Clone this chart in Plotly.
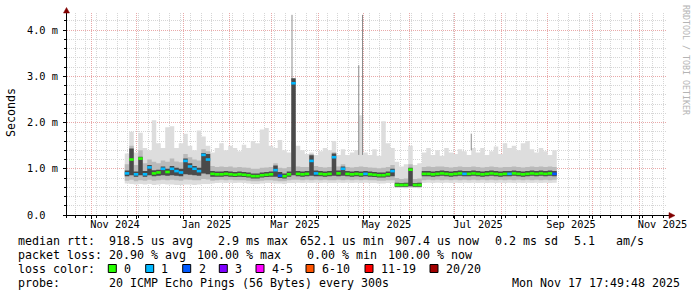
import pandas as pd
import plotly.graph_objects as go

# ---------------- data ----------------
series_start = "2024-11-23"
series_step = "3D"

# median rtt in ms per step
med = [
    0.90, 1.20, 0.88, 1.22, 0.88, 1.03, 0.90, 0.92, 1.00, 0.93,
    1.00, 0.95, 0.92, 1.17, 1.05, 1.00, 0.95, 1.30, 1.20, 0.89,
    0.88, 0.88, 0.89, 0.88, 0.87, 0.88, 0.87, 0.86, 0.84, 0.84,
    0.86, 0.87, 0.88, 0.97, 0.85, 0.84, 0.88, 2.85, 0.89, 0.88,
    0.89, 1.17, 0.90, 0.89, 0.88, 0.89, 1.25, 0.90, 1.00, 0.89,
    0.88, 0.89, 0.88, 0.89, 0.88, 0.87, 0.86, 0.86, 0.88, 0.95,
    0.65, 0.65, 0.65, 0.98, 0.65, 0.65, 0.89, 0.89, 0.88, 0.89,
    0.90, 0.89, 0.88, 0.89, 0.90, 0.89, 0.89, 0.90, 0.89, 0.88,
    0.89, 0.90, 0.89, 0.88, 0.89, 0.89, 0.90, 0.89, 0.88, 0.89,
    0.90, 0.89, 0.90, 0.89, 0.90, 0.89, 0.89,
]
# lost pings per step (0, 1, 2 of 20)
loss = [
    1, 0, 1, 0, 1, 1, 0, 0, 1, 0,
    1, 1, 1, 1, 1, 1, 1, 1, 1, 0,
    0, 0, 0, 0, 0, 0, 0, 0, 0, 0,
    0, 0, 0, 1, 2, 0, 0, 1, 0, 0,
    0, 1, 1, 0, 0, 0, 1, 0, 1, 0,
    0, 0, 0, 1, 0, 0, 0, 0, 0, 1,
    0, 0, 0, 0, 0, 0, 0, 0, 0, 0,
    0, 0, 0, 0, 0, 1, 0, 0, 0, 0,
    0, 0, 0, 0, 0, 1, 0, 0, 0, 0,
    0, 0, 0, 0, 0, 2, 0,
]
# outer smoke (min / max ping)
hi = [
    1.33, 1.80, 1.35, 1.78, 1.45, 1.40, 2.05, 1.55, 1.45, 1.90,
    1.92, 1.45, 1.55, 1.76, 1.50, 1.40, 1.83, 1.70, 1.50, 1.35,
    1.45, 1.55, 1.40, 1.50, 1.45, 1.38, 1.52, 1.45, 1.60, 1.55,
    1.85, 1.88, 1.50, 1.45, 1.62, 1.40, 1.35, 1.90, 1.50, 1.40,
    1.32, 1.35, 1.30, 1.38, 1.45, 1.40, 1.60, 1.30, 1.42, 1.30,
    1.35, 1.40, 2.16, 1.35, 1.30, 1.42, 1.28, 2.03, 1.55, 1.45,
    1.15, 1.05, 1.10, 1.50, 1.08, 1.12, 1.35, 1.45, 1.30, 1.40,
    1.28, 1.45, 1.35, 1.32, 1.42, 1.38, 1.30, 1.45, 1.35, 1.45,
    1.30, 1.38, 1.48, 1.32, 1.55, 1.45, 1.50, 1.40, 1.55, 1.60,
    1.42, 1.35, 1.45, 1.38, 1.30, 1.40, 1.40,
]
lo = [
    0.68, 0.67, 0.66, 0.67, 0.66, 0.67, 0.65, 0.66, 0.67, 0.66,
    0.66, 0.65, 0.65, 0.66, 0.66, 0.65, 0.66, 0.67, 0.67, 0.68,
    0.69, 0.70, 0.69, 0.70, 0.69, 0.70, 0.69, 0.68, 0.67, 0.67,
    0.68, 0.69, 0.69, 0.68, 0.68, 0.67, 0.69, 0.69, 0.70, 0.69,
    0.70, 0.69, 0.70, 0.69, 0.70, 0.69, 0.69, 0.70, 0.69, 0.70,
    0.69, 0.70, 0.69, 0.70, 0.69, 0.69, 0.68, 0.68, 0.69, 0.69,
    0.59, 0.59, 0.58, 0.59, 0.59, 0.58, 0.69, 0.70, 0.69, 0.70,
    0.69, 0.70, 0.69, 0.70, 0.69, 0.70, 0.69, 0.70, 0.69, 0.70,
    0.69, 0.70, 0.69, 0.70, 0.69, 0.70, 0.69, 0.70, 0.69, 0.70,
    0.69, 0.70, 0.69, 0.70, 0.69, 0.70, 0.70,
]
# middle smoke band
bhi = [
    1.10, 1.50, 1.08, 1.40, 1.12, 1.20, 1.15, 1.12, 1.18, 1.15,
    1.22, 1.16, 1.14, 1.32, 1.25, 1.20, 1.18, 1.42, 1.38, 1.06,
    1.04, 1.05, 1.04, 1.05, 1.03, 1.04, 1.03, 1.02, 1.00, 1.00,
    1.02, 1.03, 1.04, 1.12, 1.02, 1.01, 1.04, 1.60, 1.05, 1.04,
    1.04, 1.32, 1.06, 1.04, 1.03, 1.04, 1.36, 1.05, 1.10, 1.04,
    1.03, 1.04, 1.05, 1.04, 1.03, 1.02, 1.01, 1.02, 1.04, 1.08,
    0.80, 0.78, 0.79, 1.10, 0.78, 0.79, 1.04, 1.05, 1.04, 1.05,
    1.05, 1.04, 1.03, 1.04, 1.05, 1.04, 1.04, 1.05, 1.04, 1.03,
    1.04, 1.05, 1.04, 1.03, 1.04, 1.04, 1.05, 1.04, 1.03, 1.04,
    1.05, 1.04, 1.05, 1.04, 1.05, 1.04, 1.04,
]
blo = [
    0.74, 0.76, 0.73, 0.75, 0.74, 0.76, 0.74, 0.75, 0.76, 0.75,
    0.76, 0.75, 0.74, 0.77, 0.76, 0.75, 0.75, 0.78, 0.77, 0.74,
    0.75, 0.76, 0.75, 0.76, 0.75, 0.75, 0.75, 0.74, 0.73, 0.73,
    0.74, 0.75, 0.75, 0.74, 0.73, 0.73, 0.75, 0.76, 0.76, 0.75,
    0.76, 0.75, 0.76, 0.75, 0.76, 0.75, 0.75, 0.76, 0.75, 0.76,
    0.75, 0.76, 0.75, 0.76, 0.75, 0.75, 0.74, 0.74, 0.75, 0.75,
    0.60, 0.60, 0.60, 0.60, 0.60, 0.60, 0.75, 0.76, 0.75, 0.76,
    0.75, 0.76, 0.75, 0.76, 0.75, 0.76, 0.75, 0.76, 0.75, 0.76,
    0.75, 0.76, 0.75, 0.76, 0.75, 0.76, 0.75, 0.76, 0.75, 0.76,
    0.75, 0.76, 0.75, 0.76, 0.75, 0.76, 0.76,
]
# dense (dark) smoke core
chi = [
    0.96, 1.44, 0.94, 1.26, 0.95, 1.08, 0.97, 0.98, 1.05, 1.00,
    1.06, 1.02, 1.00, 1.22, 1.12, 1.06, 1.02, 1.34, 1.32, 0.95,
    0.94, 0.94, 0.95, 0.94, 0.93, 0.94, 0.93, 0.92, 0.90, 0.90,
    0.92, 0.93, 0.94, 1.07, 0.93, 0.90, 0.94, 2.96, 0.95, 0.94,
    0.95, 1.29, 0.96, 0.95, 0.94, 0.95, 1.33, 0.96, 1.05, 0.95,
    0.94, 0.95, 0.94, 0.95, 0.94, 0.93, 0.92, 0.92, 0.94, 1.00,
    0.70, 0.69, 0.70, 1.02, 0.69, 0.70, 0.95, 0.95, 0.94, 0.95,
    0.96, 0.95, 0.94, 0.95, 0.96, 0.95, 0.95, 0.96, 0.95, 0.94,
    0.95, 0.96, 0.95, 0.94, 0.95, 0.95, 0.96, 0.95, 0.94, 0.95,
    0.96, 0.95, 0.96, 0.95, 0.96, 0.95, 0.95,
]
clo = [
    0.84, 0.86, 0.83, 0.86, 0.83, 0.86, 0.84, 0.85, 0.86, 0.85,
    0.86, 0.85, 0.84, 0.88, 0.87, 0.86, 0.85, 0.90, 0.88, 0.83,
    0.83, 0.83, 0.84, 0.83, 0.82, 0.83, 0.82, 0.81, 0.79, 0.79,
    0.81, 0.82, 0.83, 0.83, 0.80, 0.79, 0.83, 0.86, 0.84, 0.83,
    0.84, 0.85, 0.84, 0.84, 0.83, 0.84, 0.85, 0.84, 0.85, 0.84,
    0.83, 0.84, 0.83, 0.84, 0.83, 0.82, 0.81, 0.81, 0.83, 0.84,
    0.61, 0.61, 0.61, 0.62, 0.61, 0.61, 0.84, 0.84, 0.83, 0.84,
    0.85, 0.84, 0.83, 0.84, 0.85, 0.84, 0.84, 0.85, 0.84, 0.83,
    0.84, 0.85, 0.84, 0.83, 0.84, 0.84, 0.85, 0.84, 0.83, 0.84,
    0.85, 0.84, 0.85, 0.84, 0.85, 0.84, 0.84,
]

# isolated single-ping outliers (thin lines)
spike_dates = ["2025-03-14 12:00", "2025-04-28 00:00", "2025-04-30 12:00", "2025-07-12 00:00"]
spike_base = [2.90, 1.30, 1.30, 1.40]
spike_top = [4.33, 3.24, 4.33, 1.76]

y_tick_vals = [0, 1, 2, 3, 4]
y_tick_text = ["0.0  ", "1.0 m", "2.0 m", "3.0 m", "4.0 m"]
x_label_dates = ["2024-11-16 12:00", "2025-01-16 12:00", "2025-03-16 12:00", "2025-05-16 12:00",
                 "2025-07-16 12:00", "2025-09-16 12:00", "2025-11-16 12:00"]
x_label_text = ["Nov 2024", "Jan 2025", "Mar 2025", "May 2025", "Jul 2025", "Sep 2025", "Nov 2025"]

loss_labels = ["0", "1", "2", "3", "4-5", "6-10", "11-19", "20/20"]
loss_colors = ["#26ff00", "#00b8ff", "#0059ff", "#7e00ff", "#ff00ff", "#ff5500", "#ff0000", "#a10000"]

legend_rtt = ["median rtt:  918.5 us avg", "  2.9 ms max", "652.1 us min", "907.4 us now", "0.2 ms sd", "5.1", "am/s"]
legend_loss = ["packet loss: 20.90 % avg", "100.00 % max", "  0.00 % min", "100.00 % now"]
legend_probe = ["probe:", "20 ICMP Echo Pings (56 Bytes) every 300s"]
stamp_text = "Mon Nov 17 17:49:48 2025"

# ---------------- layout constants ----------------
W, H = 697, 297
ML, MR, MT, MB = 67, 30, 13, 82
PW, PH = W - ML - MR, H - MT - MB
x_range = ["2024-10-15 12:00", "2025-11-19 12:00"]
y_range = [0, 4.37]

MONO = "DejaVu Sans Mono"
SMOKE_LIGHT, SMOKE_MID, SMOKE_DARK = "#dddddd", "#bababa", "#4a4a4a"
MGRID, GRID = "#e9a9a9", "#d6d6d6"
ARROW = "#800000"


def pxx(x):
    return (x - ML) / PW


def pxy(y):
    return (MT + PH - y) / PH


def nb(s):
    return s.replace(" ", "\u00a0")


dates = pd.date_range(series_start, periods=len(med), freq=series_step)

fig = go.Figure()


def band(lower, upper, color):
    fig.add_trace(go.Scatter(x=dates, y=lower, mode="lines", line=dict(width=0, shape="hv"),
                             hoverinfo="skip", showlegend=False))
    fig.add_trace(go.Scatter(x=dates, y=upper, mode="lines", line=dict(width=0, shape="hv"),
                             fill="tonexty", fillcolor=color, hoverinfo="skip", showlegend=False))


band(lo, hi, SMOKE_LIGHT)
band(blo, bhi, SMOKE_MID)

for d, b, t in zip(spike_dates, spike_base, spike_top):
    fig.add_trace(go.Scatter(x=[d, d], y=[b, t], mode="lines", line=dict(color="#8c8c8c", width=1),
                             hoverinfo="skip", showlegend=False))

band(clo, chi, SMOKE_DARK)

# median drawn as short horizontal bars coloured by loss
for lvl in sorted(set(loss)):
    xs, ys = [], []
    for i in range(len(med) - 1):
        if loss[i] == lvl:
            xs += [dates[i], dates[i + 1], None]
            ys += [med[i], med[i], None]
    fig.add_trace(go.Scatter(x=xs, y=ys, mode="lines", line=dict(color=loss_colors[lvl], width=2.6),
                             hoverinfo="skip", showlegend=False, connectgaps=False))

# dummy trace so that the label axis exists
fig.add_trace(go.Scatter(x=[x_range[0]], y=[0], xaxis="x2", mode="markers", marker=dict(opacity=0),
                         hoverinfo="skip", showlegend=False))

axis_font = dict(family=MONO, size=10.3, color="black")
fig.update_layout(
    width=W, height=H,
    margin=dict(l=ML, r=MR, t=MT, b=MB, autoexpand=False),
    paper_bgcolor="white", plot_bgcolor="white",
    hovermode=False, showlegend=False,
    xaxis=dict(type="date", range=x_range, showticklabels=False,
               tickmode="linear", tick0="2024-11-01", dtick="M1",
               showgrid=True, gridcolor=MGRID, griddash="1px,1px", gridwidth=1,
               ticks="outside", ticklen=3, tickcolor="black", tickwidth=1,
               minor=dict(tickmode="linear", tick0="2024-11-04", dtick=7 * 86400000,
                          showgrid=True, gridcolor=GRID, griddash="1px,1px",
                          ticks="outside", ticklen=2, tickcolor="black"),
               showline=False, zeroline=False, fixedrange=True),
    xaxis2=dict(type="date", range=x_range, overlaying="x", anchor="y", side="bottom",
                tickmode="array", tickvals=x_label_dates, ticktext=x_label_text,
                showgrid=False, ticks="", showline=False, zeroline=False,
                tickfont=axis_font, ticklabelstandoff=2, fixedrange=True),
    yaxis=dict(range=y_range, tickmode="array", tickvals=y_tick_vals,
               ticktext=[nb(t) for t in y_tick_text],
               showgrid=True, gridcolor=MGRID, griddash="1px,1px",
               ticks="outside", ticklen=3, tickcolor="black",
               minor=dict(tickmode="linear", tick0=0, dtick=0.2, showgrid=True, gridcolor=GRID,
                          griddash="1px,1px", ticks="outside", ticklen=2, tickcolor="black"),
               tickfont=axis_font, ticklabelstandoff=3,
               showline=False, zeroline=False, fixedrange=True),
)

shapes = []
# axes
shapes.append(dict(type="line", xref="paper", yref="paper", x0=pxx(63), x1=pxx(670),
                   y0=pxy(215.5), y1=pxy(215.5), line=dict(color="black", width=1), layer="above"))
shapes.append(dict(type="line", xref="paper", yref="paper", x0=pxx(66.5), x1=pxx(66.5),
                   y0=pxy(218), y1=pxy(11), line=dict(color="black", width=1), layer="above"))
# arrows
shapes.append(dict(type="path", xref="paper", yref="paper",
                   path="M {} {} L {} {} L {} {} Z".format(pxx(669), pxy(212.5), pxx(675), pxy(215.5),
                                                          pxx(669), pxy(218.5)),
                   fillcolor=ARROW, line=dict(color=ARROW, width=0.5), layer="above"))
shapes.append(dict(type="path", xref="paper", yref="paper",
                   path="M {} {} L {} {} L {} {} Z".format(pxx(63.5), pxy(13), pxx(66.5), pxy(7.5),
                                                          pxx(69.5), pxy(13)),
                   fillcolor=ARROW, line=dict(color=ARROW, width=0.5), layer="above"))

annotations = []


def text(s, x, y, anchor="left", size=11.63, color="black", angle=0):
    annotations.append(dict(text=nb(s), x=pxx(x), y=pxy(y), xref="paper", yref="paper",
                            xanchor=anchor, yanchor="middle", showarrow=False, textangle=angle,
                            font=dict(family=MONO, size=size, color=color)))


# unit label and watermark
text("Seconds", 11, 113, anchor="center", angle=-90)
annotations.append(dict(text=nb("RRDTOOL / TOBI OETIKER"), x=pxx(686), y=pxy(60), xref="paper",
                        yref="paper", xanchor="center", yanchor="middle", showarrow=False,
                        textangle=90, font=dict(family=MONO, size=8.3, color="#b4b4b4")))

# legend lines
rtt_x = [16, 202.3, 297.6, 393, 493, 572, 614]
for s, x in zip(legend_rtt, rtt_x):
    text(s, x, 241)
loss_x = [16, 195.3, 290.6, 386]
for s, x in zip(legend_loss, loss_x):
    text(s, x, 255)
text("loss color:", 16, 268.5)
box_x = [108.3, 145.7, 182.7, 219.3, 256, 306, 365, 430]
lab_x = [121.7, 159.3, 196.7, 233.3, 270, 320, 379, 444.3]
for lab, col, bx, lx in zip(loss_labels, loss_colors, box_x, lab_x):
    shapes.append(dict(type="rect", xref="paper", yref="paper", x0=pxx(bx), x1=pxx(bx + 8),
                       y0=pxy(264.5), y1=pxy(272.5), fillcolor=col,
                       line=dict(color="black", width=1)))
    text(lab, lx, 268.5)
text(legend_probe[0], 16, 283)
text(legend_probe[1], 107, 283)
text(stamp_text, 681.5, 283, anchor="right")

fig.update_layout(shapes=shapes, annotations=annotations)
fig.write_html("out.html", config={"displayModeBar": False})
